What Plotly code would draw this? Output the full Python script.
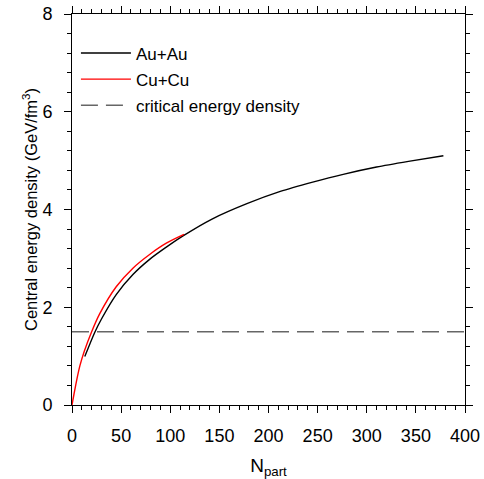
import plotly.graph_objects as go

# Au+Au central energy density vs N_part
au_npart = [13, 23, 30, 45, 62, 79, 96, 113, 143, 178, 212, 245, 276, 310, 344, 378]
au_eps = [0.99, 1.48, 1.76, 2.26, 2.67, 2.98, 3.23, 3.46, 3.81, 4.12, 4.37, 4.56, 4.72, 4.87, 4.99, 5.10]

# Cu+Cu central energy density vs N_part
cu_npart = [0, 2, 5, 8, 12.5, 20, 28, 45, 62, 79, 96, 114]
cu_eps = [0, 0.22, 0.53, 0.80, 1.10, 1.50, 1.86, 2.42, 2.80, 3.08, 3.31, 3.49]

# critical energy density
crit_npart = [0, 400]
crit_eps = [1.5, 1.5]

x_ticks = [0, 50, 100, 150, 200, 250, 300, 350, 400]
y_ticks = [0, 2, 4, 6, 8]

font_family = "Liberation Sans, Arial, sans-serif"

fig = go.Figure()
fig.add_trace(go.Scatter(x=au_npart, y=au_eps, mode="lines", name="Au+Au",
                         line=dict(color="black", width=1.4, shape="spline", smoothing=0.8),
                         legendgroup="a"))
fig.add_trace(go.Scatter(x=cu_npart, y=cu_eps, mode="lines", name="Cu+Cu",
                         line=dict(color="red", width=1.4, shape="spline", smoothing=0.8),
                         legendgroup="b"))
fig.add_trace(go.Scatter(x=crit_npart, y=crit_eps, mode="lines", name="critical energy density",
                         line=dict(color="#666666", width=1.6, dash="17px,8px"),
                         legendgroup="c"))

axis_common = dict(
    showline=True, linecolor="black", linewidth=1, mirror="ticks",
    ticks="outside", ticklen=7, tickwidth=1, tickcolor="black",
    showgrid=False, zeroline=False, automargin=False,
    tickfont=dict(size=18, color="black", family=font_family),
)

fig.update_xaxes(range=[0, 400], tickvals=x_ticks, ticklabelstandoff=7,
                 minor=dict(ticks="outside", ticklen=4, dtick=10, tickcolor="black", showgrid=False),
                 title=dict(text="N<sub>part</sub>", font=dict(size=19, color="black", family=font_family)),
                 **axis_common)
fig.update_yaxes(range=[0, 8], tickvals=y_ticks, ticklabelstandoff=8,
                 minor=dict(ticks="outside", ticklen=4, dtick=0.4, tickcolor="black", showgrid=False),
                 title=dict(text="Central energy density (GeV/fm<sup>3</sup>)", standoff=0,
                            font=dict(size=16.5, color="black", family=font_family)),
                 **axis_common)

fig.update_layout(
    width=484, height=479,
    margin=dict(l=72, r=19, t=14, b=74),
    plot_bgcolor="white", paper_bgcolor="white",
    font=dict(family=font_family, color="black"),
    showlegend=True,
    legend=dict(x=0.01, y=0.945, xanchor="left", yanchor="top",
                bgcolor="rgba(0,0,0,0)", font=dict(size=17, color="black", family=font_family),
                tracegroupgap=1, itemwidth=50),
)

fig.write_html("out.html")
